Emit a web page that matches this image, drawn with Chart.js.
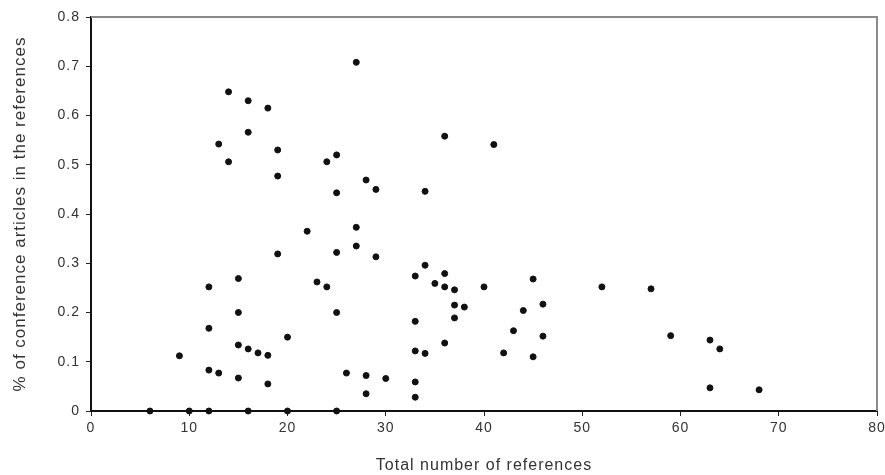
<!DOCTYPE html>
<html>
<head>
<meta charset="utf-8">
<script src="https://cdn.jsdelivr.net/npm/chart.js@4.4.1/dist/chart.umd.min.js"></script>
<style>
    html, body { margin: 0; padding: 0; background: #fff; }
    #wrap { width: 885px; height: 475px; }
</style>
</head>
<body>
<div id="wrap"><canvas id="scatterChart" width="885" height="475"></canvas></div>
<script>
// total number of references per article
const totalRefs = [
    6, 10, 12, 16, 20, 25,
    9, 12, 12, 12, 13, 13, 14, 14,
    15, 15, 15, 15, 16, 16, 16, 17, 18, 18, 18,
    19, 19, 19, 20, 22, 23, 24, 24,
    25, 25, 25, 25, 26, 27, 27, 27,
    28, 28, 28, 29, 29, 30,
    33, 33, 33, 33, 33, 34, 34, 34,
    35, 36, 36, 36, 36, 37, 37, 37, 38,
    40, 41, 42, 43, 44, 45, 45, 46, 46,
    52, 57, 59, 63, 64, 63, 68
];
// share of conference articles among those references
const confShare = [
    0, 0, 0, 0, 0, 0,
    0.112, 0.252, 0.168, 0.083, 0.077, 0.542, 0.648, 0.506,
    0.269, 0.200, 0.134, 0.067, 0.630, 0.566, 0.126, 0.118, 0.113, 0.055, 0.615,
    0.530, 0.477, 0.319, 0.150, 0.365, 0.262, 0.252, 0.506,
    0.520, 0.443, 0.322, 0.200, 0.077, 0.708, 0.373, 0.335,
    0.469, 0.072, 0.035, 0.450, 0.313, 0.066,
    0.274, 0.182, 0.122, 0.059, 0.028, 0.296, 0.446, 0.117,
    0.259, 0.279, 0.252, 0.138, 0.558, 0.246, 0.215, 0.189, 0.211,
    0.252, 0.541, 0.118, 0.163, 0.204, 0.268, 0.110, 0.217, 0.152,
    0.252, 0.248, 0.153, 0.144, 0.126, 0.047, 0.043
];

const points = totalRefs.map((x, i) => ({ x: x, y: confShare[i] }));

// the original text is a bit spread out
const spacingPlugin = {
    id: 'spacing',
    beforeUpdate(chart) { chart.ctx.letterSpacing = '1px'; },
    beforeDraw(chart) { chart.ctx.letterSpacing = '1px'; },
};

// grey frame on top and right of the plot
const framePlugin = {
    id: 'frame',
    afterDatasetsDraw(chart) {
        const a = chart.chartArea;
        const c = chart.ctx;
        c.save();
        c.strokeStyle = '#8a8a8a';
        c.lineWidth = 2;
        c.beginPath();
        c.moveTo(a.left, a.top);
        c.lineTo(a.right, a.top);
        c.lineTo(a.right, a.bottom);
        c.stroke();
        c.restore();
    }
};

const ctx = document.getElementById('scatterChart').getContext('2d');
const chart = new Chart(ctx, {
    type: 'scatter',
    data: {
        datasets: [{
            data: points,
            backgroundColor: '#111',
            borderColor: '#111',
            pointRadius: 3,
            pointHoverRadius: 3,
            clip: false,
        }],
    },
    plugins: [spacingPlugin, framePlugin],
    options: {
        responsive: false,
        animation: false,
        layout: { padding: { top: 17, right: 8, left: 0, bottom: 0 } },
        plugins: {
            legend: { display: false },
            tooltip: { enabled: false },
        },
        scales: {
            x: {
                type: 'linear',
                min: 0,
                max: 80,
                afterFit: (scale) => {
                    scale.height = 64;
                    // let the "80" label hang past the plot edge like the original
                    scale.paddingLeft = 0;
                    scale.paddingRight = 0;
                },
                ticks: {
                    stepSize: 10,
                    color: '#333',
                    padding: 4,
                    font: { family: 'Liberation Sans', size: 14 },
                },
                grid: { drawOnChartArea: false, drawTicks: true, tickLength: 5, color: '#222' },
                border: { display: true, color: '#111', width: 2 },
                title: {
                    display: true,
                    text: 'Total number of references',
                    color: '#333',
                    padding: { top: 6, bottom: 0 },
                    font: { family: 'Liberation Sans', size: 16 },
                },
            },
            y: {
                min: 0,
                max: 0.8,
                afterFit: (scale) => { scale.width = 91; },
                ticks: {
                    stepSize: 0.1,
                    color: '#333',
                    padding: 6,
                    font: { family: 'Liberation Sans', size: 14 },
                    callback: (v) => v === 0 ? '0' : v.toFixed(1),
                },
                grid: { drawOnChartArea: false, drawTicks: true, tickLength: 5, color: '#222' },
                border: { display: true, color: '#111', width: 2 },
                title: {
                    display: true,
                    text: '% of conference articles in the references',
                    color: '#333',
                    padding: { top: 10, bottom: 0 },
                    font: { family: 'Liberation Sans', size: 17 },
                },
            },
        },
    },
});
</script>
</body>
</html>
